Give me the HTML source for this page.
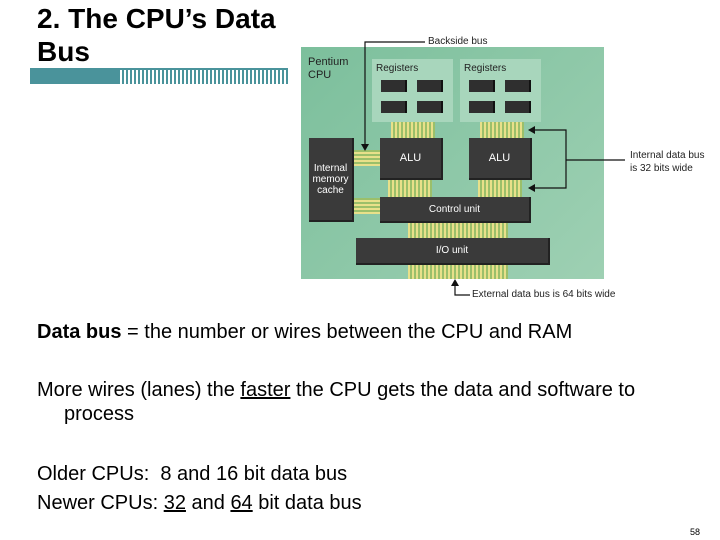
<!DOCTYPE html>
<html><head><style>
body{margin:0;width:720px;height:540px;background:#fff;position:relative;overflow:hidden;font-family:"Liberation Sans",sans-serif;}
.t{position:absolute;left:37px;font-size:28px;font-weight:bold;line-height:33px;top:2px;color:#000}
.p{position:absolute;left:37px;font-size:20px;color:#000;white-space:nowrap}
.d{position:absolute;background:#3a3a3a;border-right:2px solid #222;border-bottom:2px solid #222;color:#fff;font-size:10px;text-align:center;display:flex;align-items:center;justify-content:center;box-sizing:border-box}
.b{position:absolute;background:repeating-linear-gradient(90deg,#e8e08a 0 2px,#9bbf6a 2px 4px)}
.bh{position:absolute;background:repeating-linear-gradient(0deg,#e8e08a 0 2px,#9bbf6a 2px 4px)}
.r{position:absolute;background:#2f2f2f;width:24px;height:12px;border-right:2px solid #111}
.s{position:absolute;font-size:10px;color:#222}
</style></head><body>
<div class="t">2. The CPU’s Data<br>Bus</div>
<div style="position:absolute;left:30px;top:68px;width:88px;height:16px;background:#4a939b"></div>
<div style="position:absolute;left:118px;top:68px;width:170px;height:16px;background:repeating-linear-gradient(90deg,#4a939b 0 2px,#fff 2px 4px)"></div>
<div style="position:absolute;left:118px;top:68px;width:170px;height:2px;background:#4a939b"></div>

<div style="position:absolute;left:301px;top:47px;width:303px;height:232px;background:linear-gradient(135deg,#7cbf9c,#9ed0b3)"></div>
<div class="s" style="left:308px;top:56px;line-height:13px;font-size:11px">Pentium<br>CPU</div>
<div style="position:absolute;left:372px;top:59px;width:81px;height:63px;background:#a8d6bc"></div>
<div style="position:absolute;left:460px;top:59px;width:81px;height:63px;background:#a8d6bc"></div>
<div class="s" style="left:376px;top:63px">Registers</div>
<div class="s" style="left:464px;top:63px">Registers</div>
<div class="r" style="left:381px;top:80px"></div><div class="r" style="left:417px;top:80px"></div>
<div class="r" style="left:381px;top:101px"></div><div class="r" style="left:417px;top:101px"></div>
<div class="r" style="left:469px;top:80px"></div><div class="r" style="left:505px;top:80px"></div>
<div class="r" style="left:469px;top:101px"></div><div class="r" style="left:505px;top:101px"></div>

<div class="b" style="left:391px;top:122px;width:44px;height:16px"></div>
<div class="b" style="left:480px;top:122px;width:44px;height:16px"></div>
<div class="b" style="left:388px;top:180px;width:44px;height:17px"></div>
<div class="b" style="left:478px;top:180px;width:44px;height:17px"></div>
<div class="b" style="left:408px;top:223px;width:100px;height:15px"></div>
<div class="b" style="left:408px;top:265px;width:100px;height:14px"></div>
<div class="bh" style="left:354px;top:150px;width:26px;height:16px"></div>
<div class="bh" style="left:354px;top:198px;width:26px;height:16px"></div>

<div class="d" style="left:309px;top:138px;width:45px;height:84px;line-height:11px">Internal<br>memory<br>cache</div>
<div class="d" style="left:380px;top:138px;width:63px;height:42px;font-size:11px">ALU</div>
<div class="d" style="left:469px;top:138px;width:63px;height:42px;font-size:11px">ALU</div>
<div class="d" style="left:380px;top:197px;width:151px;height:26px">Control unit</div>
<div class="d" style="left:356px;top:238px;width:194px;height:27px">I/O unit</div>

<svg style="position:absolute;left:0;top:0" width="720" height="540">
<g stroke="#111" stroke-width="1.2" fill="none">
<path d="M425 42 H365 V146"/>
<path d="M535 130 H566 V188 H535"/>
<path d="M566 160 H625"/>
<path d="M455 283 V295 H470"/>
</g>
<g fill="#111">
<path d="M361 144 L369 144 L365 151Z"/>
<path d="M528 130 L535 126 L535 134Z"/>
<path d="M528 188 L535 184 L535 192Z"/>
<path d="M455 279 L451 286 L459 286Z"/>
</g>
</svg>
<div class="s" style="left:428px;top:36px">Backside bus</div>
<div class="s" style="left:630px;top:149px;line-height:13px">Internal data bus<br>is 32 bits wide</div>
<div class="s" style="left:472px;top:289px">External data bus is 64 bits wide</div>

<div class="p" style="top:321px"><b>Data bus</b> = the number or wires between the CPU and RAM</div>
<div class="p" style="top:378px;line-height:24px">More wires (lanes) the <u>faster</u> the CPU gets the data and software to<br><span style="padding-left:27px">process</span></div>
<div class="p" style="top:460px;line-height:29px">Older CPUs:&nbsp; 8 and 16 bit data bus<br>Newer CPUs: <u>32</u> and <u>64</u> bit data bus</div>
<div style="position:absolute;left:690px;top:527px;font-size:9px">58</div>
</body></html>
